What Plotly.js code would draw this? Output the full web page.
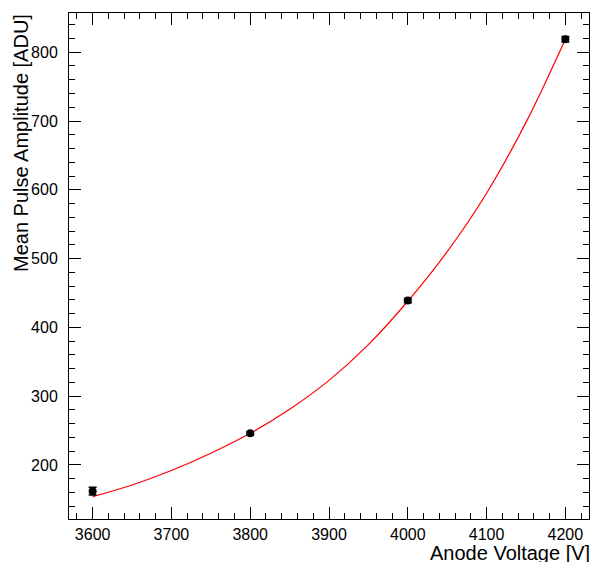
<!DOCTYPE html>
<html>
<head>
<meta charset="utf-8">
<script src="https://cdn.plot.ly/plotly-3.0.1.min.js"></script>
<style>html,body{margin:0;padding:0;background:#fff;}#chart{width:592px;height:562px;}</style>
</head>
<body>
<div id="chart"></div>
<script>
// Measured points
const voltage = [3600, 3800, 4000, 4200];
const amplitude = [162, 246, 439, 819];
const amplitudeErr = [5.5, 2.5, 3, 4];

// Fit curve
const fitVoltage = [3600, 3650, 3700, 3750, 3800, 3850, 3900, 3950, 4000, 4050, 4100, 4150, 4200];
const fitAmplitude = [154, 171, 192, 217, 246, 281, 323, 375, 438, 510, 595, 698, 819];

const xTitle = "Anode Voltage [V]";
const yTitle = "Mean Pulse Amplitude [ADU]";

const FONT = "Liberation Sans, Arial, Helvetica, sans-serif";

const traces = [
  {
    x: fitVoltage, y: fitAmplitude, type: "scatter", mode: "lines",
    line: {color: "#ff0000", width: 1.2, shape: "spline", smoothing: 1},
    hoverinfo: "skip", showlegend: false
  },
  {
    x: voltage, y: amplitude, type: "scatter", mode: "markers",
    marker: {color: "#000000", size: 8, symbol: "circle"},
    error_y: {type: "data", array: amplitudeErr, visible: true, color: "#000000", thickness: 1.5, width: 4},
    showlegend: false
  }
];

const axisCommon = {
  showgrid: false, zeroline: false,
  showline: true, linecolor: "#000", linewidth: 1, mirror: "allticks",
  ticks: "inside", ticklen: 12, tickwidth: 1, tickcolor: "#000",
  tickfont: {family: FONT, size: 16, color: "#000"},
  minor: {dtick: 20, ticks: "inside", ticklen: 6, tickwidth: 1, tickcolor: "#000", showgrid: false}
};

const layout = {
  width: 592, height: 562,
  margin: {l: 69, r: 3, t: 13, b: 43},
  paper_bgcolor: "#fff", plot_bgcolor: "#fff",
  showlegend: false,
  xaxis: Object.assign({}, axisCommon, {range: [3570, 4230], tickvals: [3600, 3700, 3800, 3900, 4000, 4100, 4200], ticklabelstandoff: 1}),
  yaxis: Object.assign({}, axisCommon, {range: [121.5, 857], tickvals: [200, 300, 400, 500, 600, 700, 800], ticklabelstandoff: 7}),
  annotations: [
    {text: xTitle, xref: "paper", yref: "paper", x: 1, y: 0, xanchor: "right", yanchor: "top",
     yshift: -22, xshift: 2, borderpad: 0, showarrow: false, font: {family: FONT, size: 20, color: "#000"}},
    {text: yTitle, xref: "paper", yref: "paper", x: 0, y: 1, xanchor: "left", yanchor: "top",
     xshift: -60, borderpad: 0, showarrow: false, textangle: -90, font: {family: FONT, size: 20, color: "#000"}}
  ]
};

Plotly.newPlot("chart", traces, layout, {displayModeBar: false, staticPlot: true});
</script>
</body>
</html>
